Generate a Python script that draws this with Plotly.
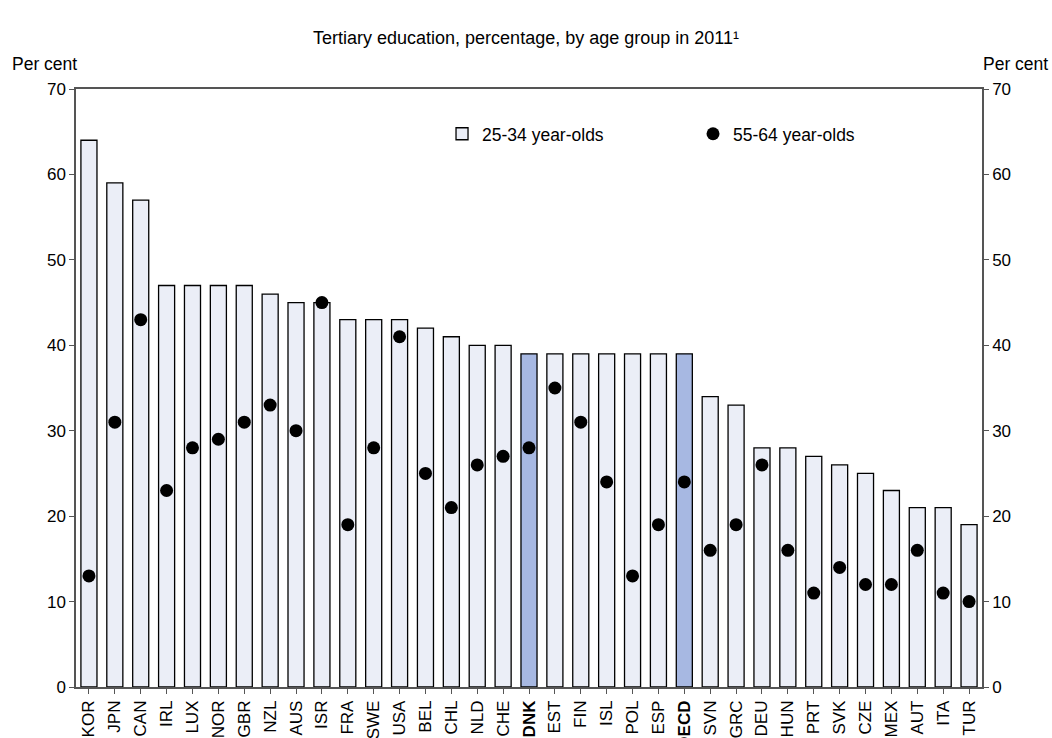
import plotly.graph_objects as go

countries = ["KOR", "JPN", "CAN", "IRL", "LUX", "NOR", "GBR", "NZL", "AUS", "ISR",
             "FRA", "SWE", "USA", "BEL", "CHL", "NLD", "CHE", "DNK", "EST", "FIN",
             "ISL", "POL", "ESP", "OECD", "SVN", "GRC", "DEU", "HUN", "PRT", "SVK",
             "CZE", "MEX", "AUT", "ITA", "TUR"]
age_25_34 = [64, 59, 57, 47, 47, 47, 47, 46, 45, 45,
             43, 43, 43, 42, 41, 40, 40, 39, 39, 39,
             39, 39, 39, 39, 34, 33, 28, 28, 27, 26,
             25, 23, 21, 21, 19]
age_55_64 = [13, 31, 43, 23, 28, 29, 31, 33, 30, 45,
             19, 28, 41, 25, 21, 26, 27, 28, 35, 31,
             24, 13, 19, 24, 16, 19, 26, 16, 11, 14,
             12, 12, 16, 11, 10]
highlight = ["DNK", "OECD"]
y_ticks = [0, 10, 20, 30, 40, 50, 60, 70]

FONT = "Arial, Liberation Sans, sans-serif"
light = "#EBEEF7"
dark = "#A7B8E2"
bar_colors = [dark if c in highlight else light for c in countries]
tick_text = [f"<b>{c}</b>" if c in highlight else c for c in countries]

fig = go.Figure()
fig.add_trace(go.Bar(
    x=countries, y=age_25_34, name="25-34 year-olds",
    marker=dict(color=bar_colors, line=dict(color="black", width=1.3)),
    showlegend=True,
))
fig.add_trace(go.Scatter(
    x=countries, y=age_55_64, name="55-64 year-olds", mode="markers",
    marker=dict(color="black", size=13),
))
# invisible trace to anchor right axis
fig.add_trace(go.Scatter(
    x=countries, y=age_55_64, yaxis="y2", mode="markers",
    marker=dict(opacity=0), showlegend=False, hoverinfo="skip",
))

axis_line = "#555555"
fig.update_layout(
    width=1052, height=738,
    margin=dict(l=76, r=70, t=89, b=51),
    paper_bgcolor="white", plot_bgcolor="white",
    font=dict(family=FONT, size=17, color="black"),
    bargap=0.38,
    title=dict(text="Tertiary education, percentage, by age group in 2011¹",
               x=0.5, xanchor="center", y=0.949, yanchor="middle",
               font=dict(size=18, family=FONT)),
    xaxis=dict(
        type="category", tickmode="array", tickvals=countries, ticktext=tick_text,
        tickangle=-90, ticks="outside", ticklen=5, tickcolor=axis_line,
        showline=True, linecolor=axis_line, linewidth=1.5, mirror=True,
        showgrid=False, tickfont=dict(size=17), range=[-0.5, len(countries) - 0.5],
        automargin=False,
    ),
    yaxis=dict(
        range=[0, 70], tickvals=y_ticks, ticks="outside", ticklen=5, tickcolor=axis_line,
        showline=True, linecolor=axis_line, linewidth=1.5, showgrid=False, zeroline=False,
        tickfont=dict(size=17), automargin=False,
    ),
    yaxis2=dict(
        range=[0, 70], tickvals=y_ticks, ticks="outside", ticklen=5, tickcolor=axis_line,
        showline=True, linecolor=axis_line, linewidth=1.5, showgrid=False, zeroline=False,
        overlaying="y", side="right", tickfont=dict(size=17), automargin=False,
    ),
    legend=dict(
        orientation="h", x=0.404, y=0.925, xanchor="left", yanchor="middle",
        bgcolor="rgba(0,0,0,0)", font=dict(size=17.5),
        entrywidth=206, entrywidthmode="pixels",
    ),
    annotations=[
        dict(text="Per cent", xref="paper", yref="paper", x=-0.073, y=1.0,
             xanchor="left", yanchor="middle", showarrow=False, yshift=25,
             font=dict(size=17.5)),
        dict(text="Per cent", xref="paper", yref="paper", x=0.999, y=1.0,
             xanchor="left", yanchor="middle", showarrow=False, yshift=25,
             font=dict(size=17.5)),
    ],
)

fig.write_html("out.html",
               config={"displayModeBar": False},
               post_script="document.body.style.margin='0';document.body.style.overflow='hidden';")
